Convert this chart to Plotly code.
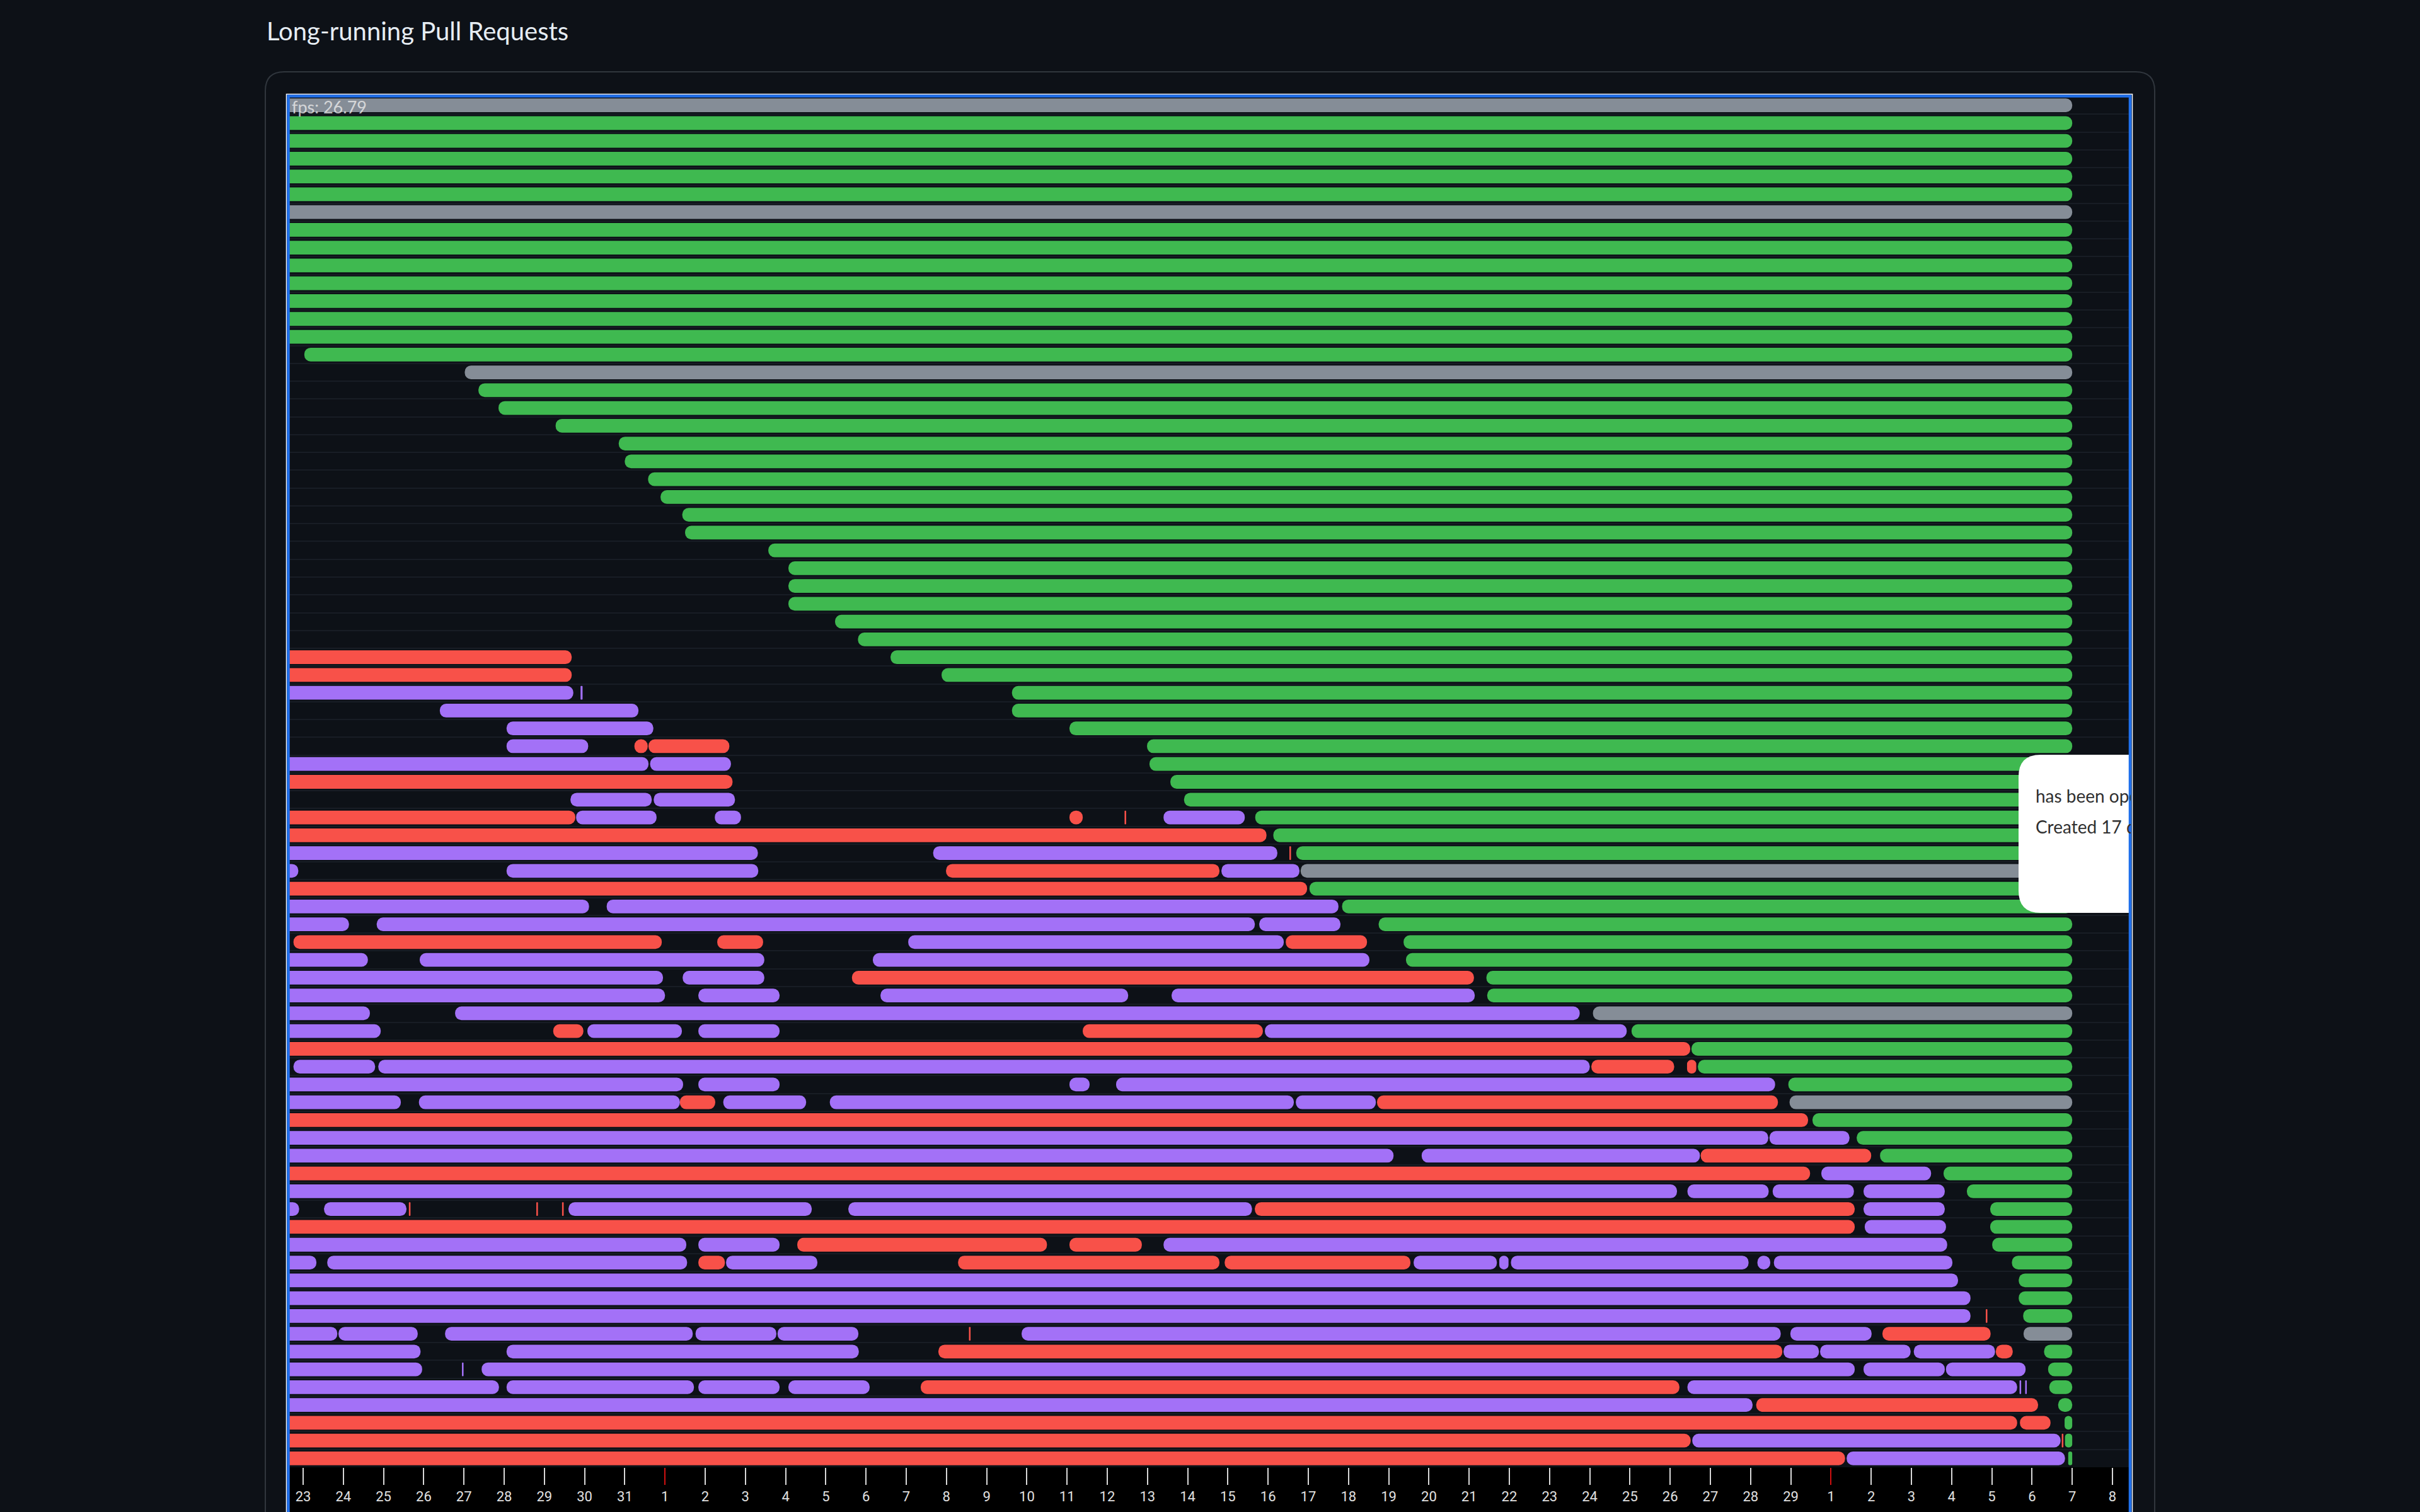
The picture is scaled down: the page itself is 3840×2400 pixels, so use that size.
import numpy as np
import pandas as pd
import plotly.graph_objects as go

W, H = 3840, 2400
BASE_DATE = "2024-01-23"      # day 0 of the timeline
N_ROWS = 77
X_RANGE = ["2024-01-22 15:21", "2024-03-08 10:33"]

TITLE = "Long-running Pull Requests"
FPS_TEXT = "fps: 26.79"
TOOLTIP_LINES = ["has been open for 17 days", "Created 17 days ago"]

COLORS = {"approved": "#3fb950", "draft": "#a371f7",
          "changes": "#f85149", "stale": "#858d97"}

# ---- segments, per state: row index, start day, end day (days after BASE_DATE) ----
approved_row = [1, 2, 3, 4, 5, 7, 8, 9, 10, 11, 12, 13, 14, 16, 17, 18, 19, 20, 21, 22,
                23, 24, 25, 26, 27, 28, 29, 30, 31, 32, 33, 34, 35, 36, 37, 38, 39, 40,
                41, 42, 44, 45, 46, 47, 48, 49, 50, 52, 53, 54, 55, 57, 58, 59, 60, 61,
                62, 63, 64, 65, 66, 67, 68, 70, 71, 72, 73, 74, 75, 76]
approved_start = [-10, -10, -10, -10, -10, -10, -10, -10, -10, -10, -10, -10, 0.03, 4.36,
                  4.86, 6.28, 7.85, 8.0, 8.58, 8.89, 9.43, 9.5, 11.57, 12.07, 12.07, 12.07,
                  13.23, 13.8, 14.61, 15.88, 17.63, 17.63, 19.06, 20.99, 21.05, 21.57,
                  21.91, 23.68, 24.13, 24.7, 25.03, 25.84, 26.75, 27.37, 27.43, 29.43,
                  29.45, 33.04, 34.53, 34.69, 36.94, 37.54, 38.64, 39.22, 40.8, 41.38,
                  41.96, 41.96, 42.01, 42.5, 42.67, 42.67, 42.78, 43.3, 43.4, 43.43,
                  43.65, 43.81, 43.82, 43.9]
approved_end = [44.0, 44.0, 44.0, 44.0, 44.0, 44.0, 44.0, 44.0, 44.0, 44.0, 44.0, 44.0,
                44.0, 44.0, 44.0, 44.0, 44.0, 44.0, 44.0, 44.0, 44.0, 44.0, 44.0, 44.0,
                44.0, 44.0, 44.0, 44.0, 44.0, 44.0, 44.0, 44.0, 44.0, 44.0, 44.0, 44.0,
                44.0, 44.0, 44.0, 44.0, 44.0, 44.0, 44.0, 44.0, 44.0, 44.0, 44.0, 44.0,
                44.0, 44.0, 44.0, 44.0, 44.0, 44.0, 44.0, 44.0, 44.0, 44.0, 44.0, 44.0,
                44.0, 44.0, 44.0, 44.0, 44.0, 44.0, 44.0, 44.0, 44.0, 44.0]

stale_row = [0, 6, 15, 43, 51, 56, 69]
stale_start = [-10, -10, 4.02, 24.81, 32.08, 36.97, 42.79]
stale_end = [44.0, 44.0, 44.0, 44.0, 44.0, 44.0, 44.0]

changes_row = [31, 32, 36, 36, 38, 40, 40, 40, 41, 42, 43, 44, 47, 47, 47, 49, 52, 52,
               53, 54, 54, 56, 56, 57, 59, 60, 62, 62, 62, 62, 63, 64, 64, 65, 65, 65,
               68, 69, 69, 70, 70, 72, 73, 74, 74, 75, 75, 76]
changes_start = [-10, -10, 8.24, 8.59, -10, -10, 19.06, 20.43, -10, 24.53, 15.99, -10,
                 -0.24, 10.3, 24.44, 13.65, 6.22, 19.39, -10, 32.04, 34.42, 9.37, 26.71,
                 -10, 34.76, -10, 2.63, 5.8, 6.44, 23.67, -10, 12.29, 19.06, 9.83, 16.29,
                 22.92, 41.85, 16.56, 39.28, 15.8, 42.1, 15.36, 36.14, -10, 42.7, -10,
                 43.74, -10]
changes_end = [6.68, 6.68, 8.57, 10.6, 10.68, 6.77, 19.39, 20.47, 23.96, 24.57, 22.79,
               24.97, 8.92, 11.44, 26.46, 29.12, 6.97, 23.87, 34.5, 34.1, 34.65, 10.25,
               36.68, 37.43, 39.0, 37.48, 2.67, 5.84, 6.48, 38.59, 38.59, 18.5, 20.86,
               10.49, 22.79, 27.54, 41.89, 16.6, 41.97, 36.79, 42.52, 34.23, 43.15, 42.63,
               43.46, 34.51, 43.78, 38.35]

draft_row = [33, 33, 34, 35, 36, 37, 37, 39, 39, 40, 40, 40, 42, 42, 43, 43, 43, 45, 45,
             46, 46, 46, 47, 48, 48, 48, 49, 49, 50, 50, 50, 50, 51, 51, 52, 52, 52, 52,
             54, 54, 55, 55, 55, 55, 56, 56, 56, 56, 56, 58, 58, 59, 59, 60, 61, 61, 61,
             61, 62, 62, 62, 62, 62, 63, 64, 64, 64, 65, 65, 65, 65, 65, 65, 65, 65, 66,
             67, 68, 69, 69, 69, 69, 69, 69, 69, 70, 70, 70, 70, 70, 71, 71, 71, 71, 71,
             72, 72, 72, 72, 72, 72, 72, 73, 75, 76]
draft_start = [-10, 6.9, 3.40, 5.06, 5.06, -10, 8.63, 6.65, 8.72, 6.79, 10.24, 21.4, -10,
               15.67, -0.5, 5.06, 22.84, -10, 7.55, -10, 1.83, 23.78, 15.05, -10, 2.9,
               14.17, -10, 9.44, -10, 9.83, 14.36, 21.6, -10, 3.78, -10, 7.07, 9.83, 23.92,
               -0.24, 1.87, -10, 9.83, 19.06, 20.22, -10, 2.88, 10.45, 13.1, 24.69, -10,
               36.47, -10, 27.82, 37.76, -10, 34.43, 36.55, 38.81, -0.5, 0.52, 6.6, 13.56,
               38.81, 38.84, -10, 9.83, 21.4, -10, 0.6, 10.52, 27.62, 29.75, 30.04, 36.17,
               36.58, -10, -10, -10, -10, 0.88, 3.53, 9.76, 11.8, 17.87, 36.99, -10, 5.06,
               36.82, 37.73, 40.06, -10, 3.95, 4.44, 38.81, 40.86, -10, 5.06, 9.83, 12.07,
               34.43, 42.69, 42.83, -10, 34.55, 38.39]
draft_end = [6.72, 6.95, 8.34, 8.71, 7.09, 8.59, 10.64, 8.67, 10.74, 8.79, 10.89, 23.42,
             11.31, 24.23, -0.12, 11.32, 24.78, 7.11, 25.75, 1.14, 23.67, 25.8, 24.39, 1.61,
             11.47, 26.52, 8.95, 11.47, 9.0, 11.85, 20.52, 29.14, 1.66, 31.75, 1.93, 9.42,
             11.85, 32.92, 1.79, 32.0, 9.45, 11.85, 19.56, 36.61, 2.43, 9.37, 12.51, 24.64,
             26.68, 36.44, 38.46, 27.12, 34.74, 40.49, 34.17, 36.45, 38.57, 40.83, -0.1,
             2.57, 12.65, 23.6, 40.83, 40.86, 9.53, 11.85, 40.89, 0.33, 9.55, 12.79, 29.69,
             29.98, 35.95, 36.49, 41.02, 41.16, 41.47, 41.47, 0.85, 2.85, 9.69, 11.77,
             13.81, 36.75, 39.01, 2.92, 13.82, 37.7, 39.98, 42.08, 2.96, 3.99, 38.59, 40.83,
             42.84, 4.87, 9.72, 11.85, 14.09, 42.63, 42.73, 42.87, 36.05, 43.71, 43.82]

# x-axis ticks: one per day, month starts drawn in red on an overlay axis
day_ticks = pd.date_range("2024-01-23", "2024-03-08", freq="D")
month_starts = ["2024-02-01", "2024-03-01"]
month_start_labels = ["1", "1"]
plain_ticks = [d for d in day_ticks if d.day != 1]
plain_tick_labels = [str(d.day) for d in plain_ticks]

# ---------------- geometry (pixels) ----------------
PLOT_L, PLOT_R, PLOT_T, PLOT_B = 458, 3380, 153, 2329


def px(x):
    return x / W


def py(y):
    return 1 - y / H


fig = go.Figure()

base = pd.Timestamp(BASE_DATE)
DAY_MS = 86400000.0


def add_state(rows, starts, ends, color):
    s = np.asarray(starts, dtype=float)
    e = np.asarray(ends, dtype=float)
    start_dates = [base + pd.Timedelta(days=float(v)) for v in s]
    fig.add_trace(go.Bar(orientation="h", y=rows, base=start_dates,
                         x=list((e - s) * DAY_MS), width=0.77, hoverinfo="skip",
                         showlegend=False,
                         marker=dict(color=color, cornerradius=11, line=dict(width=0))))


add_state(stale_row, stale_start, stale_end, COLORS["stale"])
add_state(approved_row, approved_start, approved_end, COLORS["approved"])
add_state(changes_row, changes_start, changes_end, COLORS["changes"])
add_state(draft_row, draft_start, draft_end, COLORS["draft"])

# invisible trace so the overlay axis with the red month ticks is drawn
fig.add_trace(go.Scatter(x=month_starts, y=[-5, -5], xaxis="x2", yaxis="y",
                         mode="markers", marker=dict(opacity=0), hoverinfo="skip",
                         showlegend=False))

tick_font = dict(family="Roboto", size=22, color="#e0e0e0")
xdomain = [px(PLOT_L), px(PLOT_R)]

shapes = []
# card outline
r = 30
cl, cr, ct, cb = 421, 3419, 114, 2440
card_path = (f"M {px(cl)},{py(cb)} L {px(cl)},{py(ct + r)} Q {px(cl)},{py(ct)} {px(cl + r)},{py(ct)} "
             f"L {px(cr - r)},{py(ct)} Q {px(cr)},{py(ct)} {px(cr)},{py(ct + r)} L {px(cr)},{py(cb)}")
shapes.append(dict(type="path", xref="paper", yref="paper", path=card_path,
                   line=dict(color="#30363d", width=2), layer="below"))
# black axis strip under the rows
shapes.append(dict(type="rect", xref="paper", yref="paper", x0=px(PLOT_L), x1=px(PLOT_R),
                   y0=py(2440), y1=py(PLOT_B), fillcolor="#000000", line=dict(width=0),
                   layer="below"))
# tooltip box (clipped by the canvas edge)
tr = 35
tl, tt, tb, trgt = 3203, 1198, 1449, PLOT_R
tip_path = (f"M {px(trgt)},{py(tt)} L {px(tl + tr)},{py(tt)} Q {px(tl)},{py(tt)} {px(tl)},{py(tt + tr)} "
            f"L {px(tl)},{py(tb - tr)} Q {px(tl)},{py(tb)} {px(tl + tr)},{py(tb)} L {px(trgt)},{py(tb)} Z")
shapes.append(dict(type="path", xref="paper", yref="paper", path=tip_path,
                   fillcolor="#ffffff", line=dict(width=0), layer="above"))
# focus ring around the canvas
shapes.append(dict(type="rect", xref="paper", yref="paper", x0=px(454.5), x1=px(3383.5),
                   y0=py(2450), y1=py(149.5), line=dict(color="#ffffff", width=1.5),
                   layer="above"))
shapes.append(dict(type="rect", xref="paper", yref="paper", x0=px(457.5), x1=px(3380),
                   y0=py(2450), y1=py(152.5), line=dict(color="#1f6feb", width=4.5),
                   layer="above"))

annotations = [
    dict(text=TITLE, x=px(421), y=py(49), xref="paper", yref="paper", xanchor="left",
         yanchor="middle", showarrow=False,
         font=dict(family="Lato", size=40, color="#e6edf3")),
    dict(text=FPS_TEXT, x=px(461), y=py(169), xref="paper", yref="paper", xanchor="left",
         yanchor="middle", showarrow=False,
         font=dict(family="Lato", size=27, color="rgba(235,235,235,0.8)")),
]
for i, line in enumerate(TOOLTIP_LINES):
    annotations.append(dict(text=line, x=px(3229), y=py(1263 + 49 * i), xref="paper",
                            yref="paper", xanchor="left", yanchor="middle",
                            showarrow=False, width=PLOT_R - 3229, height=40,
                            align="left", borderpad=0,
                            font=dict(family="Lato", size=28, color="#303030")))

fig.update_layout(
    width=W, height=H, margin=dict(l=0, r=0, t=0, b=0),
    paper_bgcolor="#0d1117", plot_bgcolor="#0d1117",
    barmode="overlay", showlegend=False,
    xaxis=dict(type="date", range=X_RANGE, domain=xdomain, anchor="y",
               tickmode="array", tickvals=plain_ticks, ticktext=plain_tick_labels,
               ticks="outside", ticklen=27, tickwidth=2, tickcolor="#d8d8d8",
               tickfont=tick_font, showgrid=False, zeroline=False, showline=False,
               fixedrange=True),
    xaxis2=dict(type="date", range=X_RANGE, domain=xdomain, anchor="y", overlaying="x",
                side="bottom", tickmode="array", tickvals=month_starts,
                ticktext=month_start_labels, ticks="outside", ticklen=27, tickwidth=2,
                tickcolor="#d01010", tickfont=tick_font, showgrid=False,
                zeroline=False, showline=False, fixedrange=True),
    yaxis=dict(range=[N_ROWS - 0.5, -0.5], domain=[py(PLOT_B), py(PLOT_T)],
               tickmode="array", tickvals=[i + 0.5 for i in range(N_ROWS - 1)],
               showticklabels=False, ticks="", showgrid=True, gridcolor="#181d25",
               gridwidth=2, zeroline=False, showline=False, fixedrange=True),
    shapes=shapes, annotations=annotations,
)

fig.write_html("out.html")
